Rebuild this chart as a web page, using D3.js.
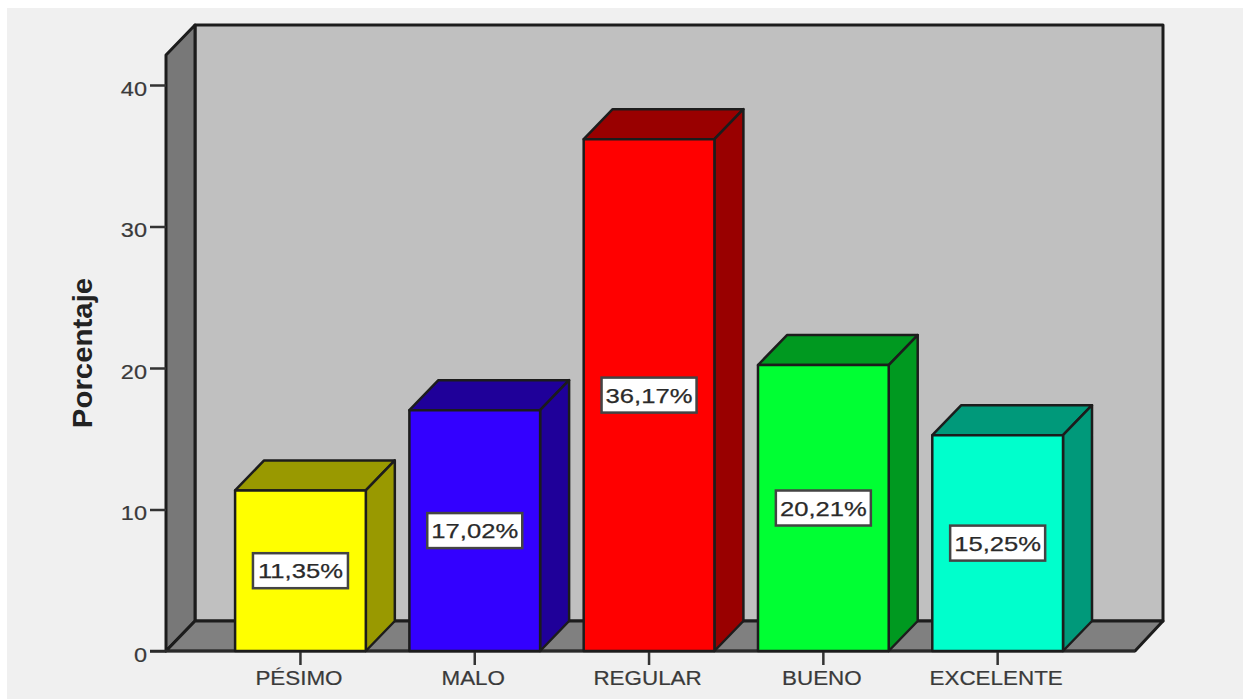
<!DOCTYPE html>
<html lang="es">
<head>
<meta charset="utf-8">
<style>
  html, body { margin: 0; padding: 0; background: #fff; }
  svg { display: block; }
  text { font-family: "Liberation Sans", Arial, sans-serif; fill: #333; }
</style>
<script src="https://cdn.jsdelivr.net/npm/d3@7/dist/d3.min.js"></script>
</head>
<body>
<svg id="chart" width="1243" height="699"></svg>
<script>
const categories = ["PÉSIMO", "MALO", "REGULAR", "BUENO", "EXCELENTE"];
const percentages = [11.35, 17.02, 36.17, 20.21, 15.25];
const valueLabels = ["11,35%", "17,02%", "36,17%", "20,21%", "15,25%"];
const frontColors = ["#ffff00", "#3300ff", "#ff0000", "#00ff33", "#00ffcc"];
const shadeColors = ["#999900", "#1f0099", "#990000", "#009920", "#00997a"];
const yTicks = [0, 10, 20, 30, 40];

const svg = d3.select("#chart");
const edge = "#1c1c1c";

// Extrusion of the 3D box, and the extent of the front plane
const depthX = 29, depthY = -30;
const frontLeft = 166, frontRight = 1135, wallTop = 55;

const x = d3.scaleBand().domain(categories).range([213.3, 1084.8])
  .paddingInner(0.25).paddingOuter(0.125);
const y = d3.scaleLinear().domain([0, 40]).range([651, 85]);
const base = y(0);

const poly = pts => pts.map(p => p.join(",")).join(" ");

// Widens a text run to a proportion of its natural width and thickens its strokes
function stretch(sel, factor, weight) {
  sel.each(function () {
    const len = this.getComputedTextLength();
    d3.select(this)
      .attr("textLength", len * factor)
      .attr("lengthAdjust", "spacingAndGlyphs")
      .style("stroke", "currentColor")
      .style("stroke-width", weight);
  });
}

svg.append("rect").attr("x", 7).attr("y", 8).attr("width", 1236).attr("height", 691).attr("fill", "#f0f0f0");

// Chart box: back wall, left wall, floor
const walls = svg.append("g").attr("stroke", edge).attr("stroke-width", 3).attr("stroke-linejoin", "round");
walls.append("rect")
  .attr("x", frontLeft + depthX).attr("y", wallTop + depthY)
  .attr("width", frontRight - frontLeft - 1).attr("height", base - wallTop)
  .attr("fill", "#c0c0c0");
walls.append("polygon").attr("fill", "#787878").attr("points", poly([
  [frontLeft, wallTop], [frontLeft + depthX, wallTop + depthY],
  [frontLeft + depthX, base + depthY], [frontLeft, base]
]));
walls.append("polygon").attr("fill", "#808080").attr("points", poly([
  [frontLeft, base], [frontLeft + depthX, base + depthY],
  [frontRight + depthX - 1, base + depthY], [frontRight, base]
]));

// Axes
const yAxis = d3.axisLeft(y).tickValues(yTicks).tickSize(16).tickPadding(3);
const xAxis = d3.axisBottom(x).tickSize(14).tickPadding(6);

const gy = svg.append("g").attr("transform", `translate(${frontLeft},0)`).call(yAxis);
gy.select(".domain").remove();
gy.selectAll("line").attr("stroke", "#333").attr("stroke-width", 2.5);
gy.selectAll("text")
  .attr("dy", "0.62em").attr("y", -3)
  .style("font-size", "21px").style("color", "#3a3a3a").style("fill", "#3a3a3a");
stretch(gy.selectAll("text"), 1.12, 0.2);

const gx = svg.append("g").attr("transform", `translate(0,${base})`).call(xAxis);
gx.select(".domain").remove();
gx.selectAll("line").attr("stroke", "#333").attr("stroke-width", 2.5);
gx.selectAll("text")
  .attr("dx", -1.5)
  .style("font-size", "20px").style("color", "#3a3a3a").style("fill", "#3a3a3a");
stretch(gx.selectAll("text"), 1.12, 0.2);

// Baseline across the front of the floor, running out to the 0 tick
svg.append("line")
  .attr("x1", frontLeft - 16).attr("x2", frontRight)
  .attr("y1", base).attr("y2", base)
  .attr("stroke", "#2a2a2a").attr("stroke-width", 2.5);

// Extruded bars
const bars = svg.append("g").selectAll("g").data(categories).join("g")
  .attr("stroke", edge).attr("stroke-width", 2.5).attr("stroke-linejoin", "round");

bars.append("polygon")
  .attr("fill", (d, i) => shadeColors[i])
  .attr("points", (d, i) => {
    const l = x(d), r = l + x.bandwidth(), t = y(percentages[i]);
    return poly([[l, t], [l + depthX, t + depthY], [r + depthX, t + depthY], [r, t]]);
  });
bars.append("polygon")
  .attr("fill", (d, i) => shadeColors[i])
  .attr("points", (d, i) => {
    const r = x(d) + x.bandwidth(), t = y(percentages[i]);
    return poly([[r, t], [r + depthX, t + depthY], [r + depthX, base + depthY], [r, base]]);
  });
bars.append("rect")
  .attr("x", d => x(d)).attr("width", x.bandwidth())
  .attr("y", (d, i) => y(percentages[i]))
  .attr("height", (d, i) => base - y(percentages[i]))
  .attr("fill", (d, i) => frontColors[i]);

// Value tags centred in each bar's front face
const tagW = 95, tagH = 35;
const tags = svg.append("g").selectAll("g").data(categories).join("g")
  .attr("transform", (d, i) =>
    `translate(${x(d) + x.bandwidth() / 2},${y(percentages[i] / 2)})`);
tags.append("rect")
  .attr("x", -tagW / 2).attr("y", -tagH / 2)
  .attr("width", tagW).attr("height", tagH)
  .attr("fill", "#fff").attr("stroke", "#444").attr("stroke-width", 2.5);
const tagText = tags.append("text")
  .attr("text-anchor", "middle").attr("dy", "0.36em")
  .style("font-size", "21px").style("color", "#2a2a2a").style("fill", "#2a2a2a")
  .text((d, i) => valueLabels[i]);
stretch(tagText, 1.22, 0.25);

// Vertical axis title
const title = svg.append("text")
  .attr("transform", "translate(92,353) rotate(-90)")
  .attr("text-anchor", "middle")
  .style("font-size", "28px").style("font-weight", "bold").style("fill", "#222")
  .text("Porcentaje");
stretch(title, 1.05, 0);
</script>
</body>
</html>
